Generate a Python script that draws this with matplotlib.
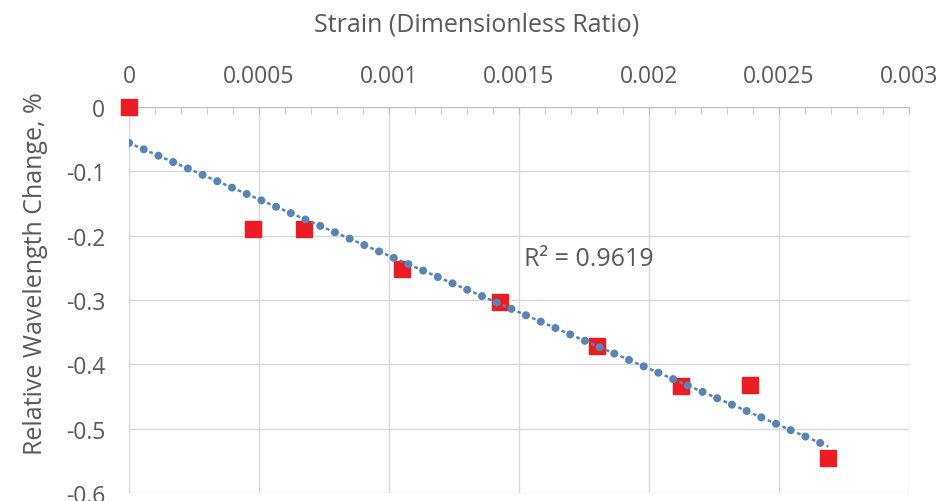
import numpy as np
import matplotlib.pyplot as plt
from matplotlib.ticker import MultipleLocator

# data
strain = [0.0, 0.000477, 0.000673, 0.00105, 0.001427, 0.0018, 0.002123, 0.00239, 0.00269]
wl_change = [0.0, -0.19, -0.19, -0.252, -0.303, -0.372, -0.433, -0.432, -0.546]
x_ticks = [0, 0.0005, 0.001, 0.0015, 0.002, 0.0025, 0.003]
x_labels = ['0', '0.0005', '0.001', '0.0015', '0.002', '0.0025', '0.003']
y_ticks = [0, -0.1, -0.2, -0.3, -0.4, -0.5, -0.6]
y_labels = ['0', '-0.1', '-0.2', '-0.3', '-0.4', '-0.5', '-0.6']
r2_text = 'R² = 0.9619'

plt.rcParams['font.family'] = ['Open Sans', 'DejaVu Sans']
txt = '#595959'
blue = '#5a84b3'

fig = plt.figure(figsize=(9.41, 5.02), dpi=100)
ax = fig.add_axes([129 / 941, 1 - 494 / 502, 780 / 941, 386 / 502])

# linear trendline (round dots with short dashes in between)
k, b = np.polyfit(strain, wl_change, 1)
xt = np.array([min(strain), max(strain)])
ax.plot(xt, k * xt + b, color=blue, lw=1.8, linestyle=(3.96, (1.5, 4.92)), zorder=4)
ax.plot(xt, k * xt + b, color=blue, lw=5.8, linestyle=(0, (0.01, 1.98)),
        dash_capstyle='round', zorder=4)

ax.plot(strain, wl_change, linestyle='none', marker='s', ms=11,
        color='#ec1c24', markeredgecolor='#ec1c24', zorder=3, clip_on=False)

ax.set_xlim(0, 0.003)
ax.set_ylim(-0.6, 0)
ax.xaxis.tick_top()
ax.xaxis.set_label_position('top')
ax.set_xticks(x_ticks)
ax.set_xticklabels(x_labels)
ax.set_yticks(y_ticks)
ax.set_yticklabels(y_labels)
ax.xaxis.set_minor_locator(MultipleLocator(0.0001))

ax.grid(True, color='#d9d9d9', lw=1)
ax.set_axisbelow(True)
for s in ['right', 'bottom']:
    ax.spines[s].set_visible(False)
ax.spines['left'].set_color('#d9d9d9')
ax.spines['top'].set_color('#bfbfbf')

ax.tick_params(axis='x', which='major', direction='in', length=5, color='#bfbfbf',
               labelsize=16.5, labelcolor=txt, pad=14)
ax.tick_params(axis='x', which='minor', direction='in', length=5, color='#bfbfbf')
ax.tick_params(axis='y', length=0, labelsize=16.5, labelcolor=txt, pad=17)

ax.set_xlabel('Strain (Dimensionless Ratio)', fontsize=18, color=txt, labelpad=24)
ax.set_ylabel('Relative Wavelength Change, %', fontsize=18, color=txt, labelpad=13)
ax.xaxis.label.set_x(0.446)
ax.yaxis.label.set_y(0.572)

ax.text(0.00152, -0.236, r2_text, fontsize=18, color=txt, va='center', ha='left')

fig.savefig('out.png', dpi=100, facecolor='white')
